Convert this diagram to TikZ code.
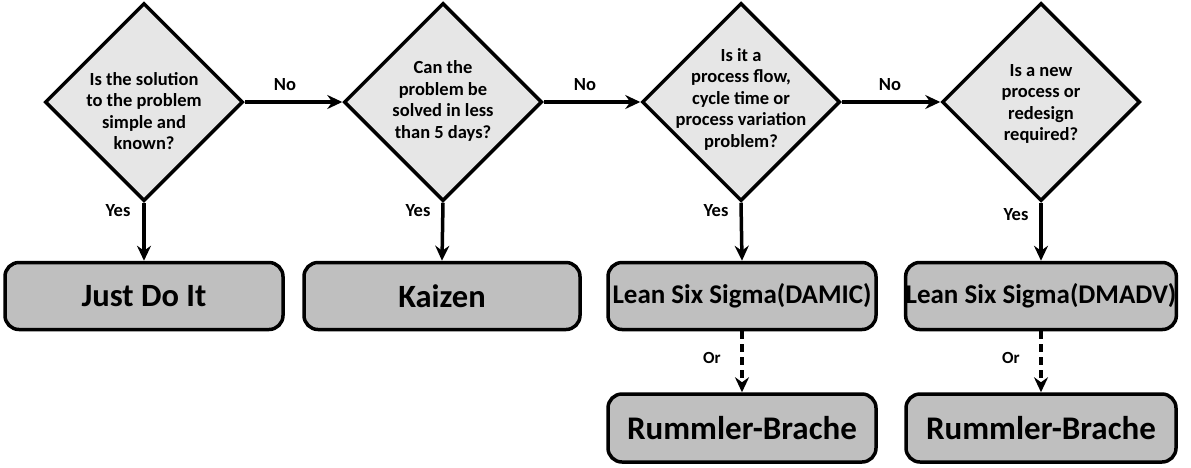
\documentclass[tikz,border=0pt]{standalone}
\usepackage{fontspec}
\setmainfont{Carlito}
\usetikzlibrary{shapes.geometric,arrows.meta}
\definecolor{dfill}{HTML}{E6E6E6}
\definecolor{bfill}{HTML}{BFBFBF}
\begin{document}
\begin{tikzpicture}[x=1pt,y=-1pt,
  decision/.style={draw=black,line width=3.5pt,fill=dfill,shape=diamond,aspect=1,minimum size=198pt,inner sep=0pt},
  qtext/.style={align=center,font=\fontsize{18.5}{21.5}\selectfont\bfseries,inner sep=0pt},
  outbox/.style={draw=black,line width=3.5pt,fill=bfill,rounded corners=14pt,minimum height=67pt,inner sep=0pt},
  lbl/.style={font=\fontsize{18.5}{21}\selectfont\bfseries,inner sep=0pt},
  arr/.style={line width=3.5pt,-{Stealth[length=15pt,width=14pt,inset=5pt]}},
  darr/.style={arr,dash pattern=on 8pt off 5pt}]
\useasboundingbox (0,0) rectangle (1191,467);
% decisions
\node[decision] (d1) at (144,102) {};
\node[decision] (d2) at (443,102) {};
\node[decision] (d3) at (741,102) {};
\node[decision] (d4) at (1041,102) {};
\node[qtext] (t1) at (144,111) {Is the solution\\to the problem\\simple and\\known?};
\node[qtext] (t2) at (443,101) {Can the\\problem be\\solved in less\\than 5 days?};
\node[qtext] (t3) at (741,99) {Is it a\\process flow,\\cycle time or\\process variation\\problem?};
\node[qtext] (t4) at (1041,104) {Is a new\\process or\\redesign\\required?};
% boxes
\node[outbox,minimum width=278pt,font=\fontsize{32.5}{38}\selectfont\bfseries] (b1) at (144,296) {Just Do It};
\node[outbox,minimum width=276pt,font=\fontsize{32.5}{38}\selectfont\bfseries] (b2) at (442,296) {Kaizen};
\node[outbox,minimum width=268pt,font=\fontsize{27}{33}\selectfont\bfseries] (b3) at (742,296) {Lean Six Sigma(DAMIC)};
\node[outbox,minimum width=270pt,font=\fontsize{27}{33}\selectfont\bfseries] (b4) at (1041,296) {Lean Six Sigma(DMADV)};
\node[outbox,minimum width=268pt,minimum height=68pt,font=\fontsize{33}{38}\selectfont\bfseries] (r3) at (742,428) {Rummler-Brache};
\node[outbox,minimum width=270pt,minimum height=68pt,font=\fontsize{33}{38}\selectfont\bfseries] (r4) at (1041,428) {Rummler-Brache};
% connectors
\draw[arr] (d1.east) -- (d2.west);
\draw[arr] (d2.east) -- (d3.west);
\draw[arr] (d3.east) -- (d4.west);
\draw[arr] (d1.south) -- (b1.north);
\draw[arr] (d2.south) -- (b2.north);
\draw[arr] (d3.south) -- (b3.north);
\draw[arr] (d4.south) -- (b4.north);
\draw[darr] (b3.south) -- (r3.north);
\draw[darr] (b4.south) -- (r4.north);
% labels
\node[lbl] (n1) at (285,85) {No};
\node[lbl] (n2) at (585,85) {No};
\node[lbl] (n3) at (890,85) {No};
\node[lbl] (y1) at (118,211) {Yes};
\node[lbl] (y2) at (418,211) {Yes};
\node[lbl] (y3) at (716,211) {Yes};
\node[lbl] (y4) at (1016,215) {Yes};
\node[lbl,font=\fontsize{17}{20}\selectfont\bfseries] (o1) at (712,358) {Or};
\node[lbl,font=\fontsize{17}{20}\selectfont\bfseries] (o2) at (1011,358) {Or};
\end{tikzpicture}
\end{document}
